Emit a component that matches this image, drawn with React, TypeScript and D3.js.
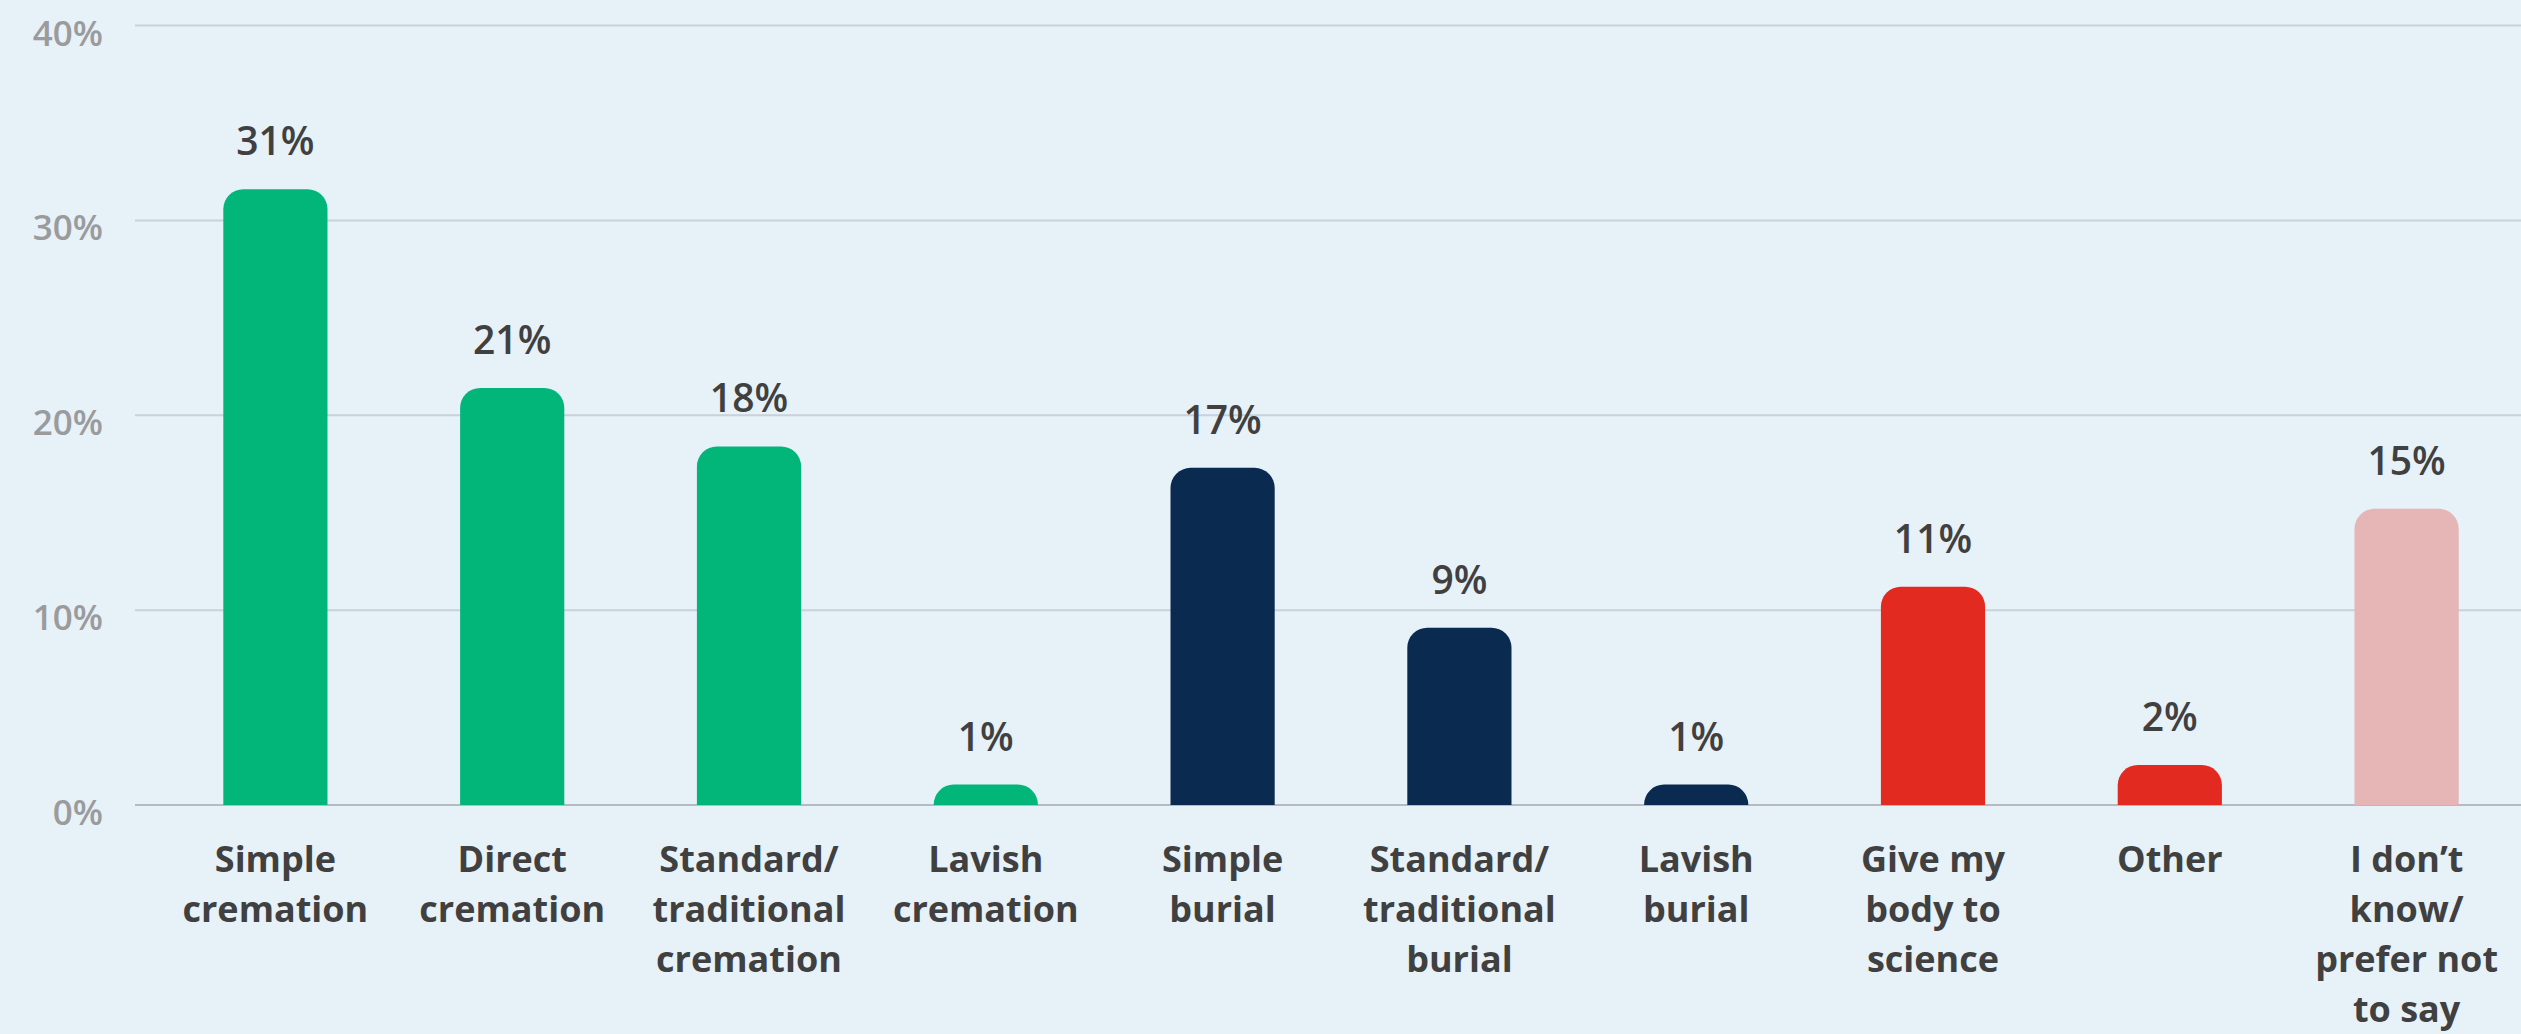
import React from "react";
import * as d3 from "d3";

const categories: string[][] = [
  ["Simple", "cremation"],
  ["Direct", "cremation"],
  ["Standard/", "traditional", "cremation"],
  ["Lavish", "cremation"],
  ["Simple", "burial"],
  ["Standard/", "traditional", "burial"],
  ["Lavish", "burial"],
  ["Give my", "body to", "science"],
  ["Other"],
  ["I don\u2019t", "know/", "prefer not", "to say"],
];
const values = [31.6, 21.4, 18.4, 1.05, 17.3, 9.1, 1.05, 11.2, 2.05, 15.2];
const valueLabels = ["31%", "21%", "18%", "1%", "17%", "9%", "1%", "11%", "2%", "15%"];
const groups = ["cremation", "cremation", "cremation", "cremation", "burial", "burial", "burial", "other", "other", "unknown"];
const yTicks = [0, 10, 20, 30, 40];

const colorMap: Record<string, string> = {
  cremation: "#02b67a",
  burial: "#0a2b4f",
  other: "#e32a20",
  unknown: "#e6b5b5",
};

const W = 2521;
const H = 1034;
const FONT = "'Open Sans', 'Noto Sans', sans-serif";

function topRoundedRect(x: number, y: number, w: number, h: number, r: number) {
  const rr = Math.min(r, h, w / 2);
  const p = d3.path();
  p.moveTo(x, y + h);
  p.lineTo(x, y + rr);
  p.arcTo(x, y, x + rr, y, rr);
  p.lineTo(x + w - rr, y);
  p.arcTo(x + w, y, x + w, y + rr, rr);
  p.lineTo(x + w, y + h);
  p.closePath();
  return p.toString();
}

export default function App() {
  const x = d3
    .scaleBand<number>()
    .domain(d3.range(categories.length))
    .range([157, 2525])
    .paddingInner(0.56)
    .paddingOuter(0.28);
  const y = d3.scaleLinear().domain([0, 40]).range([805, 25.5]);
  const bw = x.bandwidth();

  return (
    <svg
      width={W}
      height={H}
      style={{ position: "absolute", left: 0, top: 0, display: "block" }}
    >
      <rect x={0} y={0} width={W} height={H} fill="#e7f1f8" />
      {yTicks.map((t) => (
        <g key={t}>
          <line
            x1={135}
            x2={W}
            y1={y(t)}
            y2={y(t)}
            stroke={t === 0 ? "#b6bbc3" : "#c9d1da"}
            strokeWidth={2}
          />
          <text
            x={103}
            y={y(t) + 20}
            textAnchor="end"
            fontFamily={FONT}
            fontWeight={600}
            fontSize={35}
            fill="#9a9b9d"
          >
            {t}%
          </text>
        </g>
      ))}
      {values.map((v, i) => {
        const bx = x(i) as number;
        const by = y(v);
        return (
          <g key={i}>
            <path
              d={topRoundedRect(bx, by, bw, y(0) - by, 20)}
              fill={colorMap[groups[i]]}
            />
            <text
              x={bx + bw / 2}
              y={by - 34}
              textAnchor="middle"
              fontFamily={FONT}
              fontWeight={600}
              fontSize={39}
              fill="#404040"
            >
              {valueLabels[i]}
            </text>
            <text
              x={bx + bw / 2}
              y={y(0) + 67}
              textAnchor="middle"
              fontFamily={FONT}
              fontWeight={700}
              fontSize={36}
              fill="#404040"
            >
              {categories[i].map((line, k) => (
                <tspan key={k} x={bx + bw / 2} dy={k === 0 ? 0 : 50}>
                  {line}
                </tspan>
              ))}
            </text>
          </g>
        );
      })}
    </svg>
  );
}
